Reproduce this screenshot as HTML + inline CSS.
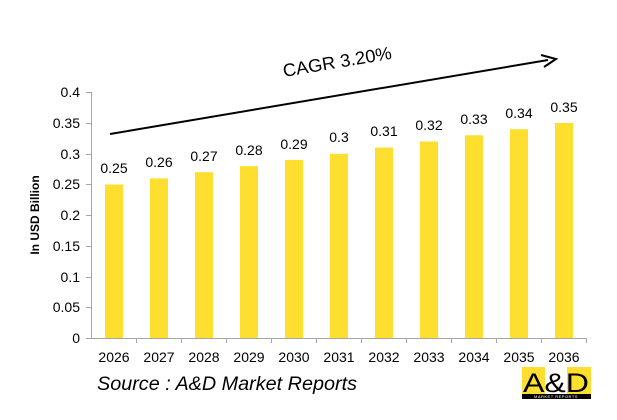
<!DOCTYPE html>
<html><head><style>body{margin:0;background:#fff}</style></head><body>
<svg width="617" height="415" xmlns="http://www.w3.org/2000/svg" font-family="Liberation Sans, sans-serif">
<rect width="617" height="415" fill="#fff"/>
<g stroke="#a6a6a6" stroke-width="1">
<line x1="91.5" y1="92" x2="91.5" y2="338"/>
<line x1="91" y1="338.5" x2="587" y2="338.5"/>
<line x1="86" y1="92.5" x2="91" y2="92.5"/>
<line x1="86" y1="123.5" x2="91" y2="123.5"/>
<line x1="86" y1="154.5" x2="91" y2="154.5"/>
<line x1="86" y1="184.5" x2="91" y2="184.5"/>
<line x1="86" y1="215.5" x2="91" y2="215.5"/>
<line x1="86" y1="246.5" x2="91" y2="246.5"/>
<line x1="86" y1="277.5" x2="91" y2="277.5"/>
<line x1="86" y1="307.5" x2="91" y2="307.5"/>
<line x1="86" y1="338.5" x2="91" y2="338.5"/>
</g>
<g stroke="#a6a6a6"><line x1="136.5" y1="338" x2="136.5" y2="343"/><line x1="181.5" y1="338" x2="181.5" y2="343"/><line x1="226.5" y1="338" x2="226.5" y2="343"/><line x1="271.5" y1="338" x2="271.5" y2="343"/><line x1="316.5" y1="338" x2="316.5" y2="343"/><line x1="361.5" y1="338" x2="361.5" y2="343"/><line x1="406.5" y1="338" x2="406.5" y2="343"/><line x1="451.5" y1="338" x2="451.5" y2="343"/><line x1="496.5" y1="338" x2="496.5" y2="343"/><line x1="541.5" y1="338" x2="541.5" y2="343"/><line x1="586.5" y1="338" x2="586.5" y2="343"/></g>
<g font-size="14" fill="#000" text-anchor="end">
<text x="80" y="97">0.4</text><text x="80" y="128">0.35</text><text x="80" y="159">0.3</text><text x="80" y="189">0.25</text><text x="80" y="220">0.2</text><text x="80" y="251">0.15</text><text x="80" y="282">0.1</text><text x="80" y="312">0.05</text><text x="80" y="343">0</text>
</g>
<text transform="translate(39,215) rotate(-90)" font-size="12" font-weight="bold" text-anchor="middle">In USD Billion</text>
<g fill="#fede2e">
<rect x="105" y="184.5" width="18" height="153.5"/>
<rect x="150" y="178.4" width="18" height="159.6"/>
<rect x="195" y="172.2" width="18" height="165.8"/>
<rect x="240" y="166.1" width="18" height="171.9"/>
<rect x="285" y="159.9" width="18" height="178.1"/>
<rect x="330" y="153.8" width="18" height="184.2"/>
<rect x="375" y="147.6" width="18" height="190.4"/>
<rect x="420" y="141.5" width="18" height="196.5"/>
<rect x="465" y="135.3" width="18" height="202.7"/>
<rect x="510" y="129.2" width="18" height="208.8"/>
<rect x="555" y="123" width="18" height="215"/>
</g>
<g font-size="14" text-anchor="middle">
<text x="114" y="173">0.25</text><text x="159" y="167">0.26</text><text x="204" y="161">0.27</text><text x="249" y="155">0.28</text><text x="294" y="149">0.29</text><text x="339" y="142">0.3</text><text x="384" y="136">0.31</text><text x="429" y="130">0.32</text><text x="474" y="124">0.33</text><text x="519" y="118">0.34</text><text x="564" y="112">0.35</text>
</g>
<g font-size="14" text-anchor="middle">
<text x="114" y="362">2026</text><text x="159" y="362">2027</text><text x="204" y="362">2028</text><text x="249" y="362">2029</text><text x="294" y="362">2030</text><text x="339" y="362">2031</text><text x="384" y="362">2032</text><text x="429" y="362">2033</text><text x="474" y="362">2034</text><text x="519" y="362">2035</text><text x="564" y="362">2036</text>
</g>
<line x1="110" y1="134" x2="548" y2="60" stroke="#000" stroke-width="2"/>
<path d="M541,55 L556,59 L544,67" fill="none" stroke="#000" stroke-width="2"/>
<text transform="translate(284,77) rotate(-9.6)" font-size="18" textLength="110" lengthAdjust="spacingAndGlyphs">CAGR 3.20%</text>
<text x="97" y="390" font-size="19" font-style="italic" textLength="260" lengthAdjust="spacingAndGlyphs">Source : A&amp;D Market Reports</text>
<rect x="522" y="367" width="23" height="27" fill="#fede2e"/>
<rect x="545" y="367" width="22" height="27" fill="#fff"/>
<rect x="567" y="367" width="24" height="27" fill="#fede2e"/>
<rect x="522" y="394" width="69" height="5" fill="#000"/>
<text x="556" y="392" font-size="27" text-anchor="middle" textLength="66" lengthAdjust="spacingAndGlyphs">A&amp;D</text>
<text x="556" y="398" font-size="4" fill="#fff" text-anchor="middle" letter-spacing="0.5">MARKET REPORTS</text>
</svg>
</body></html>
